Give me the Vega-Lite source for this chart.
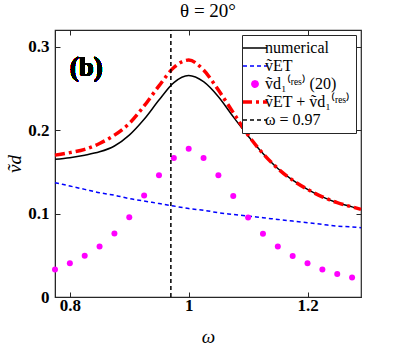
{
  "$schema": "https://vega.github.io/schema/vega-lite/v6.json",
  "autosize": {"type": "none"},
  "padding": {"left": 55, "top": 30, "right": 38, "bottom": 52},
  "width": 306,
  "height": 267,
  "background": "white",
  "title": {"text": "θ = 20°", "font": "'Liberation Serif', 'Times New Roman', serif", "fontSize": 19, "fontWeight": "normal", "color": "black", "offset": 8, "anchor": "middle"},
  "config": {
    "view": {"stroke": "#262626", "strokeWidth": 1.2},
    "axis": {"grid": false, "domainColor": "#262626", "tickColor": "#262626", "labelColor": "black", "labelFont": "'Liberation Serif', 'Times New Roman', serif", "labelFontWeight": "bold", "labelFontSize": 17, "tickSize": -5, "tickWidth": 1, "titleFont": "'Liberation Serif', 'Times New Roman', serif", "titleFontWeight": "normal", "titleColor": "black"},
    "legend": {"strokeColor": "#262626", "fillColor": "white", "padding": 5, "cornerRadius": 0, "labelFont": "'Liberation Serif', 'Times New Roman', serif", "labelFontSize": 16, "labelColor": "black", "rowPadding": 2, "offset": 5}
  },
  "datasets": {
    "curves": [
      {"k": "num", "w": 0.775, "v": 0.165}, {"k": "num", "w": 0.8, "v": 0.167}, {"k": "num", "w": 0.825, "v": 0.170}, {"k": "num", "w": 0.85, "v": 0.174}, {"k": "num", "w": 0.875, "v": 0.181}, {"k": "num", "w": 0.9, "v": 0.194}, {"k": "num", "w": 0.925, "v": 0.213}, {"k": "num", "w": 0.95, "v": 0.236}, {"k": "num", "w": 0.975, "v": 0.257}, {"k": "num", "w": 1.0, "v": 0.2655}, {"k": "num", "w": 1.025, "v": 0.258}, {"k": "num", "w": 1.05, "v": 0.240}, {"k": "num", "w": 1.075, "v": 0.216}, {"k": "num", "w": 1.1, "v": 0.193}, {"k": "num", "w": 1.125, "v": 0.172}, {"k": "num", "w": 1.15, "v": 0.154}, {"k": "num", "w": 1.175, "v": 0.140}, {"k": "num", "w": 1.2, "v": 0.129}, {"k": "num", "w": 1.225, "v": 0.120}, {"k": "num", "w": 1.25, "v": 0.113}, {"k": "num", "w": 1.275, "v": 0.108}, {"k": "num", "w": 1.29, "v": 0.105},
      {"k": "et", "w": 0.775, "v": 0.137}, {"k": "et", "w": 0.8, "v": 0.133}, {"k": "et", "w": 0.825, "v": 0.129}, {"k": "et", "w": 0.85, "v": 0.125}, {"k": "et", "w": 0.875, "v": 0.122}, {"k": "et", "w": 0.9, "v": 0.118}, {"k": "et", "w": 0.925, "v": 0.115}, {"k": "et", "w": 0.95, "v": 0.112}, {"k": "et", "w": 0.975, "v": 0.109}, {"k": "et", "w": 1.0, "v": 0.106}, {"k": "et", "w": 1.025, "v": 0.104}, {"k": "et", "w": 1.05, "v": 0.101}, {"k": "et", "w": 1.075, "v": 0.099}, {"k": "et", "w": 1.1, "v": 0.097}, {"k": "et", "w": 1.125, "v": 0.095}, {"k": "et", "w": 1.15, "v": 0.093}, {"k": "et", "w": 1.175, "v": 0.091}, {"k": "et", "w": 1.2, "v": 0.089}, {"k": "et", "w": 1.225, "v": 0.087}, {"k": "et", "w": 1.25, "v": 0.085}, {"k": "et", "w": 1.275, "v": 0.084}, {"k": "et", "w": 1.29, "v": 0.083},
      {"k": "vd1", "w": 0.775, "v": 0.0331}, {"k": "vd1", "w": 0.8, "v": 0.0403}, {"k": "vd1", "w": 0.825, "v": 0.0495}, {"k": "vd1", "w": 0.85, "v": 0.0606}, {"k": "vd1", "w": 0.875, "v": 0.0761}, {"k": "vd1", "w": 0.9, "v": 0.0957}, {"k": "vd1", "w": 0.925, "v": 0.1215}, {"k": "vd1", "w": 0.95, "v": 0.1459}, {"k": "vd1", "w": 0.975, "v": 0.1665}, {"k": "vd1", "w": 1.0, "v": 0.1777}, {"k": "vd1", "w": 1.025, "v": 0.1665}, {"k": "vd1", "w": 1.05, "v": 0.1459}, {"k": "vd1", "w": 1.075, "v": 0.1211}, {"k": "vd1", "w": 1.1, "v": 0.0952}, {"k": "vd1", "w": 1.125, "v": 0.0757}, {"k": "vd1", "w": 1.15, "v": 0.0606}, {"k": "vd1", "w": 1.175, "v": 0.0491}, {"k": "vd1", "w": 1.2, "v": 0.0403}, {"k": "vd1", "w": 1.225, "v": 0.0331}, {"k": "vd1", "w": 1.25, "v": 0.0276}, {"k": "vd1", "w": 1.275, "v": 0.0235},
      {"k": "sum", "w": 0.775, "v": 0.170}, {"k": "sum", "w": 0.8, "v": 0.173}, {"k": "sum", "w": 0.825, "v": 0.177}, {"k": "sum", "w": 0.85, "v": 0.184}, {"k": "sum", "w": 0.875, "v": 0.194}, {"k": "sum", "w": 0.9, "v": 0.208}, {"k": "sum", "w": 0.925, "v": 0.229}, {"k": "sum", "w": 0.95, "v": 0.253}, {"k": "sum", "w": 0.975, "v": 0.275}, {"k": "sum", "w": 1.0, "v": 0.284}, {"k": "sum", "w": 1.025, "v": 0.272}, {"k": "sum", "w": 1.05, "v": 0.248}, {"k": "sum", "w": 1.075, "v": 0.221}, {"k": "sum", "w": 1.1, "v": 0.194}, {"k": "sum", "w": 1.125, "v": 0.172}, {"k": "sum", "w": 1.15, "v": 0.154}, {"k": "sum", "w": 1.175, "v": 0.140}, {"k": "sum", "w": 1.2, "v": 0.129}, {"k": "sum", "w": 1.225, "v": 0.120}, {"k": "sum", "w": 1.25, "v": 0.113}, {"k": "sum", "w": 1.275, "v": 0.108}, {"k": "sum", "w": 1.29, "v": 0.105},
      {"k": "om", "w": 0.97, "v": 0}
    ]
  },
  "resolve": {"scale": {"x": "independent", "y": "independent"}},
  "layer": [
    {
      "data": {"name": "curves"},
      "encoding": {
        "x": {"field": "w", "type": "quantitative", "scale": {"domain": [0.775, 1.29], "nice": false, "zero": false},
          "axis": {"values": [0.8, 1, 1.2], "format": "~g", "labelPadding": 5, "title": "ω", "titleFontStyle": "italic", "titleFontSize": 19, "titlePadding": 14}},
        "y": {"field": "v", "type": "quantitative", "scale": {"domain": [0, 0.32], "nice": false},
          "axis": {"values": [0, 0.1, 0.2, 0.3], "format": "~g", "labelPadding": 11, "title": "ṽd", "titleFontStyle": "italic", "titleFontSize": 19, "titlePadding": 3}},
        "color": {"field": "k", "type": "nominal",
          "scale": {"domain": ["num", "et", "vd1", "sum", "om"], "range": ["black", "#0000ff", "#ff00ff", "#ff0000", "black"]},
          "legend": {"title": null, "orient": "top-right", "symbolSize": 576, "labelOffset": 2,
            "labelExpr": "datum.value === 'num' ? 'numerical' : datum.value === 'et' ? 'ṽET' : datum.value === 'vd1' ? 'ṽd₁⁽ʳᵉˢ⁾ (20)' : datum.value === 'sum' ? 'ṽET + ṽd₁⁽ʳᵉˢ⁾' : 'ω = 0.97'",
            "encode": {"symbols": {"update": {
              "shape": {"signal": "datum.value === 'vd1' ? 'circle' : 'stroke'"},
              "size": {"signal": "datum.value === 'vd1' ? 40 : 576"},
              "fill": {"signal": "datum.value === 'vd1' ? '#ff00ff' : 'transparent'"},
              "stroke": {"signal": "datum.value === 'et' ? '#0000ff' : datum.value === 'sum' ? '#ff0000' : datum.value === 'vd1' ? 'transparent' : 'black'"},
              "strokeWidth": {"signal": "datum.value === 'sum' ? 3.5 : 1.5"},
              "strokeDash": {"signal": "datum.value === 'et' || datum.value === 'om' ? [4, 3] : datum.value === 'sum' ? [9, 4, 3, 4] : [1, 0]"},
              "opacity": {"value": 1}
            }}}}
        }
      },
      "layer": [
        {"transform": [{"filter": "datum.k === 'num'"}], "mark": {"type": "line", "strokeWidth": 1.5, "interpolate": "monotone"}},
        {"transform": [{"filter": "datum.k === 'et'"}], "mark": {"type": "line", "strokeWidth": 1.5, "strokeDash": [4, 3], "interpolate": "monotone"}},
        {"transform": [{"filter": "datum.k === 'vd1'"}], "mark": {"type": "circle", "size": 36, "opacity": 1}},
        {"transform": [{"filter": "datum.k === 'sum'"}], "mark": {"type": "line", "strokeWidth": 3.5, "strokeDash": [10, 4, 3, 4], "interpolate": "monotone"}},
        {"transform": [{"filter": "datum.k === 'om'"}], "mark": {"type": "rule", "strokeWidth": 1.5, "strokeDash": [4, 3]},
          "encoding": {"y": {"datum": 0}, "y2": {"datum": 0.32}}},
        {"mark": {"type": "text", "text": "(b)", "font": "'Liberation Serif', 'Times New Roman', serif", "fontWeight": "bold", "fontSize": 27, "align": "left", "baseline": "alphabetic"},
          "encoding": {"x": {"datum": 0.8}, "y": {"datum": 0.2645}, "color": {"value": "black"}}}
      ]
    },
    {
      "data": {"values": [{"w": 0.8, "v": 0}]},
      "mark": {"type": "point", "opacity": 0},
      "encoding": {
        "x": {"field": "w", "type": "quantitative", "scale": {"domain": [0.775, 1.29], "nice": false, "zero": false},
          "axis": {"orient": "top", "labels": false, "title": null, "domain": false, "values": [0.8, 1, 1.2]}},
        "y": {"field": "v", "type": "quantitative", "scale": {"domain": [0, 0.32], "nice": false},
          "axis": {"orient": "right", "labels": false, "title": null, "domain": false, "values": [0, 0.1, 0.2, 0.3]}}
      }
    }
  ]
}
